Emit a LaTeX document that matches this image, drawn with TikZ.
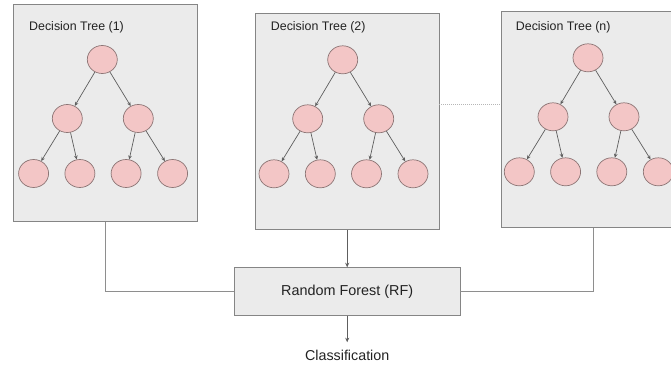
\documentclass[tikz,border=0pt]{standalone}
\usepackage{fontspec}
\setmainfont{Liberation Sans}
\usetikzlibrary{arrows.meta,shapes.geometric}

\definecolor{boxfill}{HTML}{EBEBEB}
\definecolor{boxline}{HTML}{858585}
\definecolor{nodefill}{HTML}{F3C6C6}
\definecolor{nodeline}{HTML}{8C7575}
\definecolor{arrowgray}{HTML}{5E5E5E}
\definecolor{linkgray}{HTML}{8E8E8E}
\definecolor{txt}{HTML}{222222}

\tikzset{
  treebox/.style={draw=boxline, fill=boxfill, line width=0.8pt,
    minimum width=183.5pt, minimum height=216.5pt, inner sep=0pt},
  tnode/.style={ellipse, draw=nodeline, fill=nodefill, line width=0.7pt,
    minimum width=30pt, minimum height=28pt, inner sep=0pt},
  treearrow/.style={draw=arrowgray, line width=0.7pt,
    -{Stealth[length=4pt,width=3.6pt]}},
  title/.style={anchor=west, inner sep=0pt, text=txt, font=\fontsize{12.4}{14}\selectfont},
  rfbox/.style={draw=boxline, fill=boxfill, line width=0.8pt,
    minimum width=225.7pt, minimum height=47.6pt, inner sep=0pt,
    text=txt, font=\fontsize{14.4}{17}\selectfont},
  link/.style={draw=linkgray, line width=0.8pt},
  flow/.style={draw=arrowgray, line width=0.8pt,
    -{Stealth[length=4.5pt,width=4pt]}},
  dotlink/.style={draw=boxline!60, line width=0.8pt, dash pattern=on 1pt off 1pt}
}

% one binary tree of depth two: prefix, root x, root y
\newcommand\dtree[3]{%
  \node[tnode] (#1r) at (#2,#3) {};
  \node[tnode] (#1a) at ([shift={(-35,59)}]#1r) {};
  \node[tnode] (#1b) at ([shift={(36,59)}]#1r) {};
  \node[tnode] (#1c) at ([shift={(-68.7,114)}]#1r) {};
  \node[tnode] (#1d) at ([shift={(-22.4,114)}]#1r) {};
  \node[tnode] (#1e) at ([shift={(23.8,114)}]#1r) {};
  \node[tnode] (#1f) at ([shift={(70.3,114)}]#1r) {};
  \draw[treearrow] (#1r) -- (#1a);
  \draw[treearrow] (#1r) -- (#1b);
  \draw[treearrow] (#1a) -- (#1c);
  \draw[treearrow] (#1a) -- (#1d);
  \draw[treearrow] (#1b) -- (#1e);
  \draw[treearrow] (#1b) -- (#1f);
}

\begin{document}
\begin{tikzpicture}[x=1pt,y=-1pt]
  \useasboundingbox (0,0) rectangle (671,366);
  \clip (0,0) rectangle (671,366);

  % the three decision trees
  \node[treebox] (t1) at (105.5,113) {};
  \node[treebox] (t2) at (347.2,121.5) {};
  \node[treebox] (t3) at (593,119.3) {};

  \node[title] (h1) at (29,27.3) {Decision Tree (1)};
  \node[title] (h2) at (270.7,27) {Decision Tree (2)};
  \node[title] (h3) at (515.7,27.7) {Decision Tree (n)};

  \dtree{p}{102.3}{59.5}
  \dtree{q}{342.7}{59.8}
  \dtree{s}{588}{57.8}

  % the elided trees between (2) and (n)
  \draw[dotlink] ([yshift=17.5pt]t2.east) -- ([yshift=17.5pt]t2.east -| t3.west);

  % aggregation
  \node[rfbox] (rf) at (347.2,291.5) {Random Forest (RF)};
  \node[inner sep=3pt, text=txt, font=\fontsize{14.3}{17}\selectfont] (cls) at (347.2,355.7) {Classification};

  \draw[link] (t1.south) |- (rf.west);
  \draw[link] (t3.south) |- (rf.east);
  \draw[flow] (t2.south) -- (rf.north);
  \draw[flow, shorten >=5pt] (rf.south) -- (cls.north);
\end{tikzpicture}
\end{document}
